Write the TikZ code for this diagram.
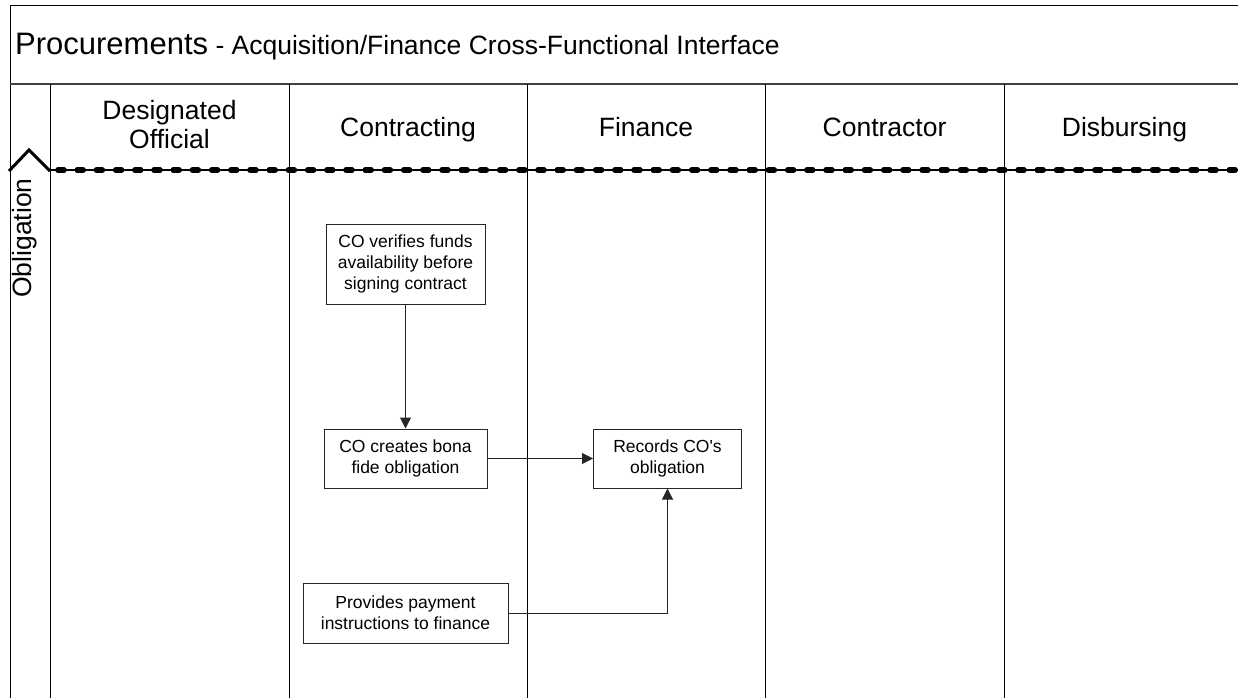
\documentclass[tikz,border=0pt]{standalone}
\usepackage{fontspec}
\setmainfont{Liberation Sans}
\usetikzlibrary{arrows.meta}
\begin{document}
\begin{tikzpicture}[x=1pt,y=-1pt,
  lanehead/.style={align=center,inner sep=0pt,anchor=base,font=\fontsize{26.5}{29}\selectfont},
  stepbox/.style={draw=black!85,line width=1pt,fill=white,align=center,inner sep=0pt,
    font=\fontsize{17.5}{20.7}\selectfont},
  flow/.style={draw=black!85,line width=1pt,-{Triangle[length=11pt,width=11pt]}},
  frame/.style={line width=1pt,draw=black},
]
\useasboundingbox (0,0) rectangle (1238,698);

% pool frame and title band
\draw[frame] (1238,6) -- (10,6) -- (10,698);
\draw[line width=2pt,draw=black!75] (10,84) -- (1238,84);
\node[anchor=base west,inner sep=0pt] (title) at (15,54.3)
  {\fontsize{31}{34}\selectfont Procurements\fontsize{26.5}{30}\selectfont{} - Acquisition/Finance Cross-Functional Interface};

% lane separators
\foreach \x in {50,289,527,765,1004}
  \draw[frame] (\x,84) -- (\x,698);

% lane headers (base anchor = baseline of the last line)
\node[lanehead] (official) at (169.5,148) {Designated\\Official};
\node[lanehead] (contracting) at (408,136) {Contracting};
\node[lanehead] (finance) at (646,136) {Finance};
\node[lanehead] (contractor) at (884.5,136) {Contractor};
\node[lanehead] (disbursing) at (1124.5,136) {Disbursing};

% phase separator
\draw[line width=1.5pt] (50,170) -- (1238,170);
\draw[line width=5.5pt,line cap=round,dash pattern=on 6pt off 13.2pt,dash phase=-8pt] (50,170) -- (1238,170);
\draw[line width=3pt,miter limit=10] (9,171) -- (29,150) -- (50,171);
\node[rotate=90,inner sep=0pt,font=\fontsize{26.5}{29}\selectfont] (phase) at (25,238) {Obligation};

% process steps
\node[stepbox,minimum width=159pt,minimum height=80pt] (verify) at (405.5,264)
  {CO verifies funds\\availability before\\signing contract};
\node[stepbox,minimum width=163pt,minimum height=59pt] (create) at (405.5,458.5)
  {CO creates bona\\fide obligation};
\node[stepbox,minimum width=148pt,minimum height=59pt] (record) at (667.5,458.5)
  {Records CO\textquotesingle s\\obligation};
\node[stepbox,minimum width=205pt,minimum height=60pt] (instruct) at (405.5,613)
  {Provides payment\\instructions to finance};

% connectors
\draw[flow] (verify) -- (create);
\draw[flow] (create) -- (record);
\draw[flow] (instruct.east) -| (record.south);
\end{tikzpicture}
\end{document}
